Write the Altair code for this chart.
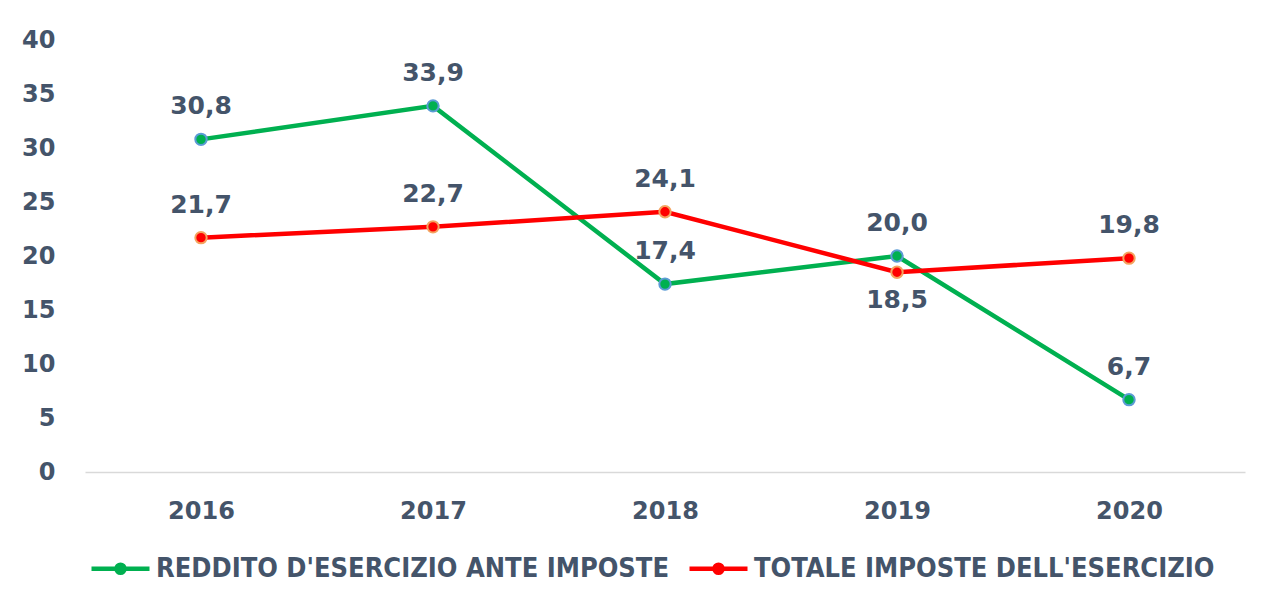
import altair as alt
import pandas as pd

anni = ["2016", "2017", "2018", "2019", "2020"]
reddito = [30.8, 33.9, 17.4, 20.0, 6.7]
imposte = [21.7, 22.7, 24.1, 18.5, 19.8]
serie_reddito = "REDDITO D'ESERCIZIO ANTE IMPOSTE"
serie_imposte = "TOTALE IMPOSTE DELL'ESERCIZIO"

rows = []
for a, v in zip(anni, reddito):
    rows.append({"anno": a, "valore": v, "serie": serie_reddito})
for a, v in zip(anni, imposte):
    rows.append({"anno": a, "valore": v, "serie": serie_imposte})
df = pd.DataFrame(rows)

TXT = "#44546A"
FONT = "DejaVu Sans"

x = alt.X("anno:O", sort=anni, title=None,
          scale=alt.Scale(padding=0.5),
          axis=alt.Axis(labelAngle=0, ticks=False, domainColor="#D9D9D9", domainWidth=1.5,
                        labelFont=FONT, labelFontWeight="bold", labelFontSize=24,
                        labelColor=TXT, labelPadding=27, grid=False))
y = alt.Y("valore:Q", title=None,
          scale=alt.Scale(domain=[0, 40], nice=False),
          axis=alt.Axis(values=[0, 5, 10, 15, 20, 25, 30, 35, 40], ticks=False, domain=False,
                        grid=False, labelFont=FONT, labelFontWeight="bold", labelFontSize=24,
                        labelColor=TXT, labelPadding=30))

sym = "M-1,0H1M0.14,0A0.14,0.14,0,1,1,-0.14,0A0.14,0.14,0,1,1,0.14,0Z"

base = alt.Chart(df)

lines = base.mark_line(strokeWidth=4.5).encode(
    x=x, y=y,
    color=alt.Color("serie:N", sort=[serie_reddito, serie_imposte],
                    scale=alt.Scale(domain=[serie_reddito, serie_imposte], range=["#00B050", "#FF0000"]),
                    legend=alt.Legend(title=None, orient="none", direction="horizontal",
                                      legendX=4, legendY=497, symbolType=sym, symbolSize=3364,
                                      symbolStrokeWidth=4.5, labelFont="DejaVu Sans Condensed",
                                      labelFontWeight="bold", labelFontSize=27, labelColor=TXT,
                                      labelOffset=4, columnPadding=10, padding=0,
                                      labelLimit=1000)),
)

points = base.mark_point(filled=True, size=130, strokeWidth=2, opacity=1).encode(
    x=x, y=y,
    fill=alt.Fill("serie:N", scale=alt.Scale(domain=[serie_reddito, serie_imposte], range=["#00B050", "#FF0000"]), legend=None),
    stroke=alt.Stroke("serie:N", scale=alt.Scale(domain=[serie_reddito, serie_imposte], range=["#5B9BD5", "#F4A460"]), legend=None),
)

below = f"datum.serie === \"{serie_imposte}\" && datum.anno === '2019'"
lab_base = base.transform_calculate(
    lab="replace(format(datum.valore, '.1f'), '.', ',')"
)
labels_up = lab_base.transform_filter(f"!({below})").mark_text(
    font=FONT, fontWeight="bold", fontSize=25, color=TXT, baseline="middle", dy=-33
).encode(x=x, y=y, text="lab:N")
labels_down = lab_base.transform_filter(below).mark_text(
    font=FONT, fontWeight="bold", fontSize=25, color=TXT, baseline="middle", dy=28
).encode(x=x, y=y, text="lab:N")

chart = alt.layer(lines, points, labels_up, labels_down).properties(
    width=1160, height=432,
    autosize=alt.AutoSizeParams(type="none"),
    padding={"left": 77, "top": 32, "right": 20, "bottom": 110},
    background="white",
).configure_view(stroke=None)

chart.save("out.html", embed_options={"renderer": "svg", "actions": False})
